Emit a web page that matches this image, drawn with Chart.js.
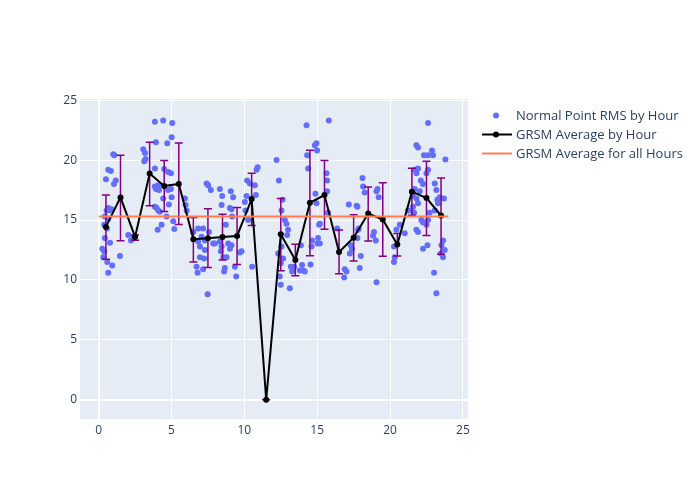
<!DOCTYPE html>
<html>
<head>
<meta charset="utf-8">
<script src="https://cdn.jsdelivr.net/npm/chart.js@4"></script>
<style>
  html, body { margin: 0; padding: 0; background: #ffffff; }
  #wrap { position: relative; width: 700px; height: 500px; }
  canvas { position: absolute; left: 0; top: 0; }
  .legend { position: absolute; left: 478px; top: 105.5px; font-family: "Open Sans", sans-serif; font-size: 13px; color: #2a3f5f; }
  .item { position: relative; height: 19px; line-height: 19px; padding-left: 38px; white-space: nowrap; }
  .sym { position: absolute; left: 4px; top: 0; width: 30px; height: 19px; }
</style>
</head>
<body>
<div id="wrap">
  <canvas id="c" width="700" height="500"></canvas>
  <div class="legend">
    <div class="item"><svg class="sym" width="30" height="19"><circle cx="14" cy="9.5" r="3" fill="#636efa"/></svg>Normal Point RMS by Hour</div>
    <div class="item"><svg class="sym" width="30" height="19"><line x1="0" y1="9.5" x2="30" y2="9.5" stroke="#000" stroke-width="2"/><circle cx="14" cy="9.5" r="3" fill="#000"/></svg>GRSM Average by Hour</div>
    <div class="item"><svg class="sym" width="30" height="19"><line x1="0" y1="9.5" x2="30" y2="9.5" stroke="#ff7f50" stroke-width="2"/></svg>GRSM Average for all Hours</div>
  </div>
</div>
<script>
// ---- data ----
const pointX = [0.50,0.66,0.84,1.00,1.07,1.17,1.05,0.66,0.55,0.78,0.89,0.43,0.66,0.38,0.57,0.43,0.78,0.25,0.38,0.32,0.59,0.93,0.66,1.46,
  2.03,2.22,2.42,
  3.06,3.13,3.18,3.22,3.86,4.43,5.05,3.93,4.71,5.01,3.86,4.50,4.77,4.96,3.86,4.14,4.09,4.77,4.96,4.43,5.01,4.82,3.86,4.09,4.20,4.66,4.32,4.05,5.12,5.19,3.93,3.98,
  5.92,6.04,5.97,
  7.41,7.52,7.70,7.57,6.49,6.83,7.17,7.06,6.83,7.29,6.95,7.29,6.95,7.24,6.72,6.79,7.17,7.86,7.48,
  8.32,8.48,9.07,9.23,8.44,9.01,9.12,9.16,8.73,7.98,8.32,8.44,8.39,8.55,8.78,8.89,9.12,9.01,8.66,8.61,9.35,9.44,9.69,9.81,
  10.03,10.08,10.19,10.26,10.15,10.72,10.79,10.84,10.91,10.38,10.53,
  12.21,12.37,12.55,12.78,12.89,13.00,12.94,12.55,12.66,12.50,12.32,12.43,12.50,13.12,12.62,
  13.19,13.28,13.42,13.88,13.96,14.03,14.15,13.81,
  14.27,14.54,14.61,14.65,14.38,14.31,14.84,14.95,14.99,14.88,14.95,15.13,15.06,15.02,
  15.80,15.64,15.68,15.68,15.75,15.18,15.18,
  16.37,16.89,17.01,16.85,
  17.17,17.70,17.76,17.81,17.76,17.99,17.92,17.30,17.24,17.39,17.85,
  18.11,18.15,18.26,18.90,18.83,19.02,19.07,19.14,19.07,19.22,
  20.27,20.44,20.32,20.27,20.67,21.01,
  21.81,21.92,22.33,22.61,22.88,22.95,22.61,21.69,21.92,21.81,22.11,22.26,22.61,22.50,21.69,21.58,22.04,21.81,21.92,21.58,21.23,21.47,21.65,21.81,21.92,22.15,22.26,22.61,22.50,22.72,22.26,22.57,23.02,23.18,
  23.80,23.07,23.18,23.25,23.29,23.41,23.70,23.07,23.64,23.53,23.75,23.64,23.48];
const pointY = [18.4,19.2,19.1,20.5,20.4,18.3,18.0,16.0,15.8,15.8,15.9,15.3,15.1,14.6,14.3,13.5,13.1,12.6,12.4,11.9,11.5,11.2,10.6,12.0,
  13.75,13.3,13.6,
  20.9,19.9,20.6,20.1,23.2,23.3,23.1,21.5,21.4,21.9,19.3,19.25,19.0,18.9,17.8,17.5,17.9,17.5,17.6,16.8,16.9,16.3,16.1,15.8,15.7,15.3,14.6,14.2,14.9,14.25,17.6,16.0,
  16.8,15.8,16.25,
  18.05,17.9,17.5,14.0,14.0,14.3,14.3,13.6,13.2,13.3,12.8,12.5,11.9,11.8,11.1,10.6,10.9,13.05,8.8,
  17.6,17.0,17.4,16.9,16.25,16.0,15.9,15.3,14.6,13.05,13.2,12.8,12.4,11.9,11.9,13.05,12.9,12.6,11.0,10.7,11.1,10.3,12.3,12.4,
  16.5,15.8,18.3,15.0,17.0,17.9,17.1,19.2,19.4,18.05,11.1,
  20.0,18.3,15.8,15.0,14.7,14.2,13.75,12.8,11.8,11.4,12.2,10.3,9.6,9.3,16.7,
  11.1,10.7,11.1,12.9,11.25,10.8,10.7,10.8,
  22.9,11.3,12.8,13.3,19.3,20.4,21.25,21.4,20.8,17.2,16.4,14.6,13.5,13.05,
  23.3,18.9,18.3,17.4,15.6,14.7,13.05,
  14.3,10.9,10.7,10.2,
  16.3,16.2,16.1,14.2,13.5,12.0,11.0,12.9,12.2,12.6,14.3,
  18.5,17.8,17.3,14.0,13.7,13.3,9.8,17.6,17.4,16.9,
  12.8,14.2,11.9,11.5,14.6,13.9,
  21.25,21.05,20.4,20.4,20.8,20.4,23.1,19.2,19.3,18.9,18.3,18.0,19.2,18.9,17.6,17.0,17.4,16.8,16.4,16.1,15.8,15.8,15.6,14.2,14.0,15.0,14.8,15.0,14.6,15.6,12.6,12.9,10.6,8.9,
  20.05,18.05,17.5,16.7,16.4,16.9,16.8,15.8,13.3,12.9,12.5,11.9,12.2];

const hourX = [0.5,1.5,2.5,3.5,4.5,5.5,6.5,7.5,8.5,9.5,10.5,11.5,12.5,13.5,14.5,15.5,16.5,17.5,18.5,19.5,20.5,21.5,22.5,23.5];
const hourAvg = [14.43,16.89,13.59,18.88,17.84,18.01,13.40,13.48,13.59,13.67,16.75,0,13.81,11.66,16.44,17.09,12.33,13.53,15.55,15.04,12.95,17.37,16.83,15.38];
const hourHigh = [17.09,20.41,13.76,21.50,19.97,21.42,15.21,15.94,15.49,16.05,18.90,0,16.80,12.98,20.83,19.97,14.18,15.44,17.76,18.12,13.87,19.32,19.91,18.51];
const hourLow = [11.72,13.28,13.31,16.19,15.72,14.63,11.49,11.05,11.66,11.30,14.54,0,10.77,10.35,12.03,14.23,10.51,11.58,13.26,11.97,12.00,15.41,13.72,12.14];
const overallX = [0, 24];
const overallY = [15.3, 15.3];
const xTicks = [0,5,10,15,20,25];
const yTicks = [0,5,10,15,20,25];

// ---- chart ----
const bgPlugin = {
  id: 'bg',
  beforeDraw(chart) {
    const {ctx, chartArea: a} = chart;
    ctx.save();
    ctx.fillStyle = '#e5ecf6';
    ctx.fillRect(a.left, a.top, a.right - a.left, a.bottom - a.top);
    ctx.restore();
  }
};
const errPlugin = {
  id: 'errbars',
  beforeDatasetDraw(chart, args) {
    if (args.index !== 1) return;
    const {ctx, scales: {x, y}} = chart;
    ctx.save();
    ctx.strokeStyle = '#800080';
    ctx.lineWidth = 1.5;
    for (let i = 0; i < hourX.length; i++) {
      const px = x.getPixelForValue(hourX[i]);
      const hi = y.getPixelForValue(hourHigh[i]);
      const lo = y.getPixelForValue(hourLow[i]);
      ctx.beginPath();
      ctx.moveTo(px, hi); ctx.lineTo(px, lo);
      ctx.moveTo(px - 4, hi); ctx.lineTo(px + 4, hi);
      ctx.moveTo(px - 4, lo); ctx.lineTo(px + 4, lo);
      ctx.stroke();
    }
    ctx.restore();
  }
};

const tickFont = { family: '"Open Sans", sans-serif', size: 12 };
new Chart(document.getElementById('c'), {
  type: 'scatter',
  data: {
    datasets: [
      {
        label: 'Normal Point RMS by Hour',
        data: pointX.map((v, i) => ({x: v, y: pointY[i]})),
        backgroundColor: '#636efa', borderColor: '#636efa',
        pointRadius: 3, borderWidth: 0, showLine: false, order: 3
      },
      {
        label: 'GRSM Average by Hour',
        data: hourX.map((v, i) => ({x: v, y: hourAvg[i]})),
        borderColor: '#000000', backgroundColor: '#000000',
        showLine: true, borderWidth: 2, pointRadius: 3, pointBorderWidth: 0, order: 2
      },
      {
        label: 'GRSM Average for all Hours',
        data: overallX.map((v, i) => ({x: v, y: overallY[i]})),
        borderColor: '#ff7f50', backgroundColor: '#ff7f50',
        showLine: true, borderWidth: 2, pointRadius: 0, order: 1
      }
    ]
  },
  options: {
    responsive: false,
    animation: false,
    layout: { padding: { left: 0, right: 232, top: 99, bottom: 0 } },
    plugins: { legend: { display: false }, tooltip: { enabled: false } },
    scales: {
      x: {
        type: 'linear', min: -1.28, max: 25.35,
        afterBuildTicks: s => { s.ticks = xTicks.map(v => ({value: v})); },
        afterFit: s => { s.height = 81; },
        grid: { color: '#ffffff', lineWidth: c => (c.tick && c.tick.value === 0 ? 2 : 1), drawTicks: false },
        border: { display: false },
        ticks: { color: '#2a3f5f', font: tickFont, padding: 4, maxRotation: 0 }
      },
      y: {
        type: 'linear', min: -1.6, max: 25.1,
        afterBuildTicks: s => { s.ticks = yTicks.map(v => ({value: v})); },
        afterFit: s => { s.width = 80; },
        grid: { color: '#ffffff', lineWidth: c => (c.tick && c.tick.value === 0 ? 2 : 1), drawTicks: false },
        border: { display: false },
        ticks: { color: '#2a3f5f', font: tickFont, padding: 3 }
      }
    }
  },
  plugins: [bgPlugin, errPlugin]
});
</script>
</body>
</html>
